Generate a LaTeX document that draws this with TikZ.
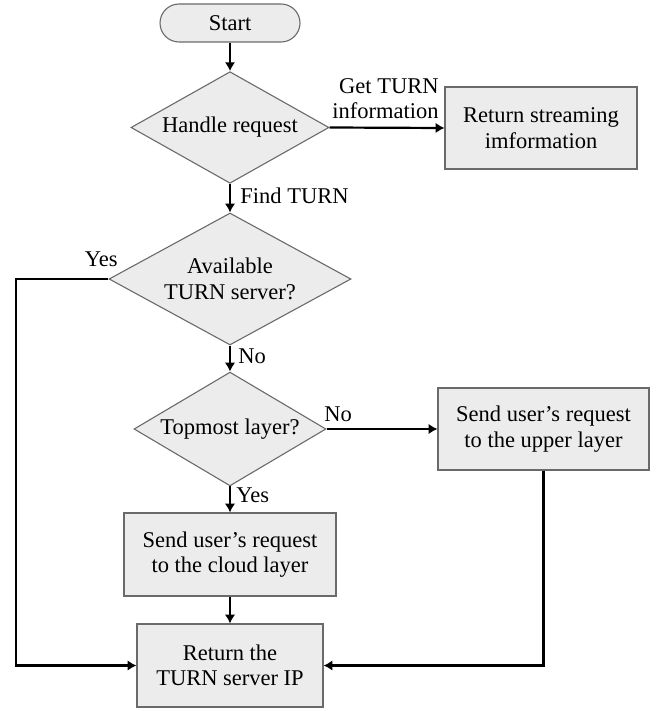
\documentclass[tikz,border=0pt]{standalone}
\usepackage{fontspec}
\setmainfont{Liberation Serif}
\usetikzlibrary{shapes.geometric,arrows.meta}

\definecolor{boxfill}{HTML}{ECECEC}
\definecolor{boxline}{HTML}{6A6A6A}

\tikzset{
  base/.style={draw=boxline, fill=boxfill, line width=0.55pt, inner sep=1pt,
    align=center, font=\fontsize{11.25}{12.75}\selectfont},
  procbox/.style={base, rectangle},
  decision/.style={base, diamond, aspect=1.6},
  terminal/.style={base, rectangle, rounded corners=9.5pt},
  flow/.style={line width=1.1pt, -{Latex[length=4.4pt,width=5.2pt]}},
  lbl/.style={inner sep=0pt, font=\fontsize{11.25}{12.5}\selectfont, align=left}
}

\begin{document}
\begin{tikzpicture}[x=0.5pt, y=-0.5pt]
  \useasboundingbox (0,0) rectangle (659,711);

  % main column
  \node[terminal, minimum width=70pt, minimum height=19pt] (start) at (230,23) {Start};
  \node[decision, minimum width=99pt, minimum height=54.5pt] (d1) at (230,127.5) {Handle request};
  \node[decision, minimum width=121pt, minimum height=66pt] (d2) at (230,279) {Available\\TURN server?};
  \node[decision, minimum width=96pt, minimum height=54pt] (d3) at (230,429) {Topmost layer?};
  \node[procbox, minimum width=106pt, minimum height=41.5pt] (cloud) at (230,554.5) {Send user’s request\\to the cloud layer};
  \node[procbox, minimum width=93pt, minimum height=41.5pt] (ret) at (230,665.5) {Return the\\TURN server IP};

  % side boxes
  \node[procbox, minimum width=96pt, minimum height=41pt] (stream) at (541,128) {Return streaming\\imformation};
  \node[procbox, minimum width=105.5pt, minimum height=41pt] (up) at (543.5,429) {Send user’s request\\to the upper layer};

  % bend point of the left return path
  \coordinate (lx) at (16,665.5);

  % connectors
  \draw[flow] (start) -- (d1);
  \draw[flow] (d1.east) -- (stream.west);
  \draw[flow] (d1.south) -- (d2.north);
  \draw[flow] (d2.west) -| (lx) -- (ret.west);
  \draw[flow] (d2.south) -- (d3.north);
  \draw[flow] (d3.east) -- (up.west);
  \draw[flow] (d3.south) -- (cloud.north);
  \draw[flow] (cloud.south) -- (ret.north);
  \draw[flow] (up.south) |- (ret.east);

  % connector labels
  \node[lbl, align=right, anchor=south east] (lget) at (439,119) {Get TURN\\information};
  \node[lbl, anchor=west] (lfind) at (240,196) {Find TURN};
  \node[lbl, anchor=east] (lyes1) at (118,259) {Yes};
  \node[lbl, anchor=west] (lno1) at (238,356) {No};
  \node[lbl, anchor=west] (lno2) at (324,414) {No};
  \node[lbl, anchor=west] (lyes2) at (236,495) {Yes};
\end{tikzpicture}
\end{document}
